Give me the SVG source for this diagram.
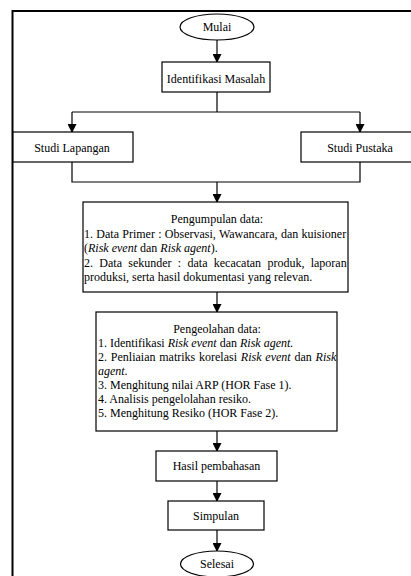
<svg xmlns="http://www.w3.org/2000/svg" width="411" height="576" viewBox="0 0 411 576" font-family="'Liberation Serif','DejaVu Serif','Times New Roman',serif">
<style>
.b{fill:#fff;stroke:#000;stroke-width:1.2}
.t{font-family:'Liberation Serif','DejaVu Serif','Times New Roman',serif;font-size:12px;fill:#000}
.c{text-anchor:middle}
.i{font-style:italic}
.l{fill:none;stroke:#000;stroke-width:1.2}
</style>
<defs>
<marker id="ar" markerWidth="9" markerHeight="9" refX="8" refY="4.5" orient="auto" markerUnits="userSpaceOnUse">
<path d="M0,0 L9,4.5 L0,9 Z" fill="#000"/>
</marker>
</defs>
<rect x="0" y="0" width="411" height="576" fill="#fff"/>
<g id="frame">
<path d="M12.5,576 V11 H411" fill="none" stroke="#000" stroke-width="2"/>
</g>
<g id="connectors">
<path class="l" d="M217,40 V62" marker-end="url(#ar)"/>
<path class="l" d="M217,92 V112 M72,112 H360"/>
<path class="l" d="M72,112 V132" marker-end="url(#ar)"/>
<path class="l" d="M360,112 V132" marker-end="url(#ar)"/>
<path class="l" d="M72,162 V182 H360 V162"/>
<path class="l" d="M217,182 V202" marker-end="url(#ar)"/>
<path class="l" d="M217,292 V312" marker-end="url(#ar)"/>
<path class="l" d="M217,431 V451" marker-end="url(#ar)"/>
<path class="l" d="M217,481 V501" marker-end="url(#ar)"/>
<path class="l" d="M217,530 V551" marker-end="url(#ar)"/>
</g>
<g id="mulai">
<ellipse class="b" cx="217" cy="27" rx="37" ry="13"/>
<text class="t c" x="217" y="31">Mulai</text>
</g>
<g id="identifikasi">
<rect class="b" x="162" y="62" width="108" height="30"/>
<text class="t c" x="216" y="83">Identifikasi Masalah</text>
</g>
<g id="lapangan">
<rect class="b" x="13" y="132" width="120" height="30"/>
<text class="t c" x="72" y="152">Studi Lapangan</text>
</g>
<g id="pustaka">
<rect class="b" x="301" y="132" width="115" height="30"/>
<text class="t c" x="360" y="152">Studi Pustaka</text>
</g>
<g id="pengumpulan">
<rect class="b" x="83" y="202" width="265" height="90"/>
<text class="t c" x="217" y="223">Pengumpulan data:</text>
<text class="t" x="84" y="237.5" word-spacing="0.3">1. Data Primer : Observasi, Wawancara, dan kuisioner</text>
<text class="t" x="84" y="252">(<tspan class="i">Risk event</tspan> dan <tspan class="i">Risk agent</tspan>).</text>
<text class="t" x="84" y="266.5" word-spacing="3.3">2. Data sekunder : data kecacatan produk, laporan</text>
<text class="t" x="84" y="281">produksi, serta hasil dokumentasi yang relevan.</text>
</g>
<g id="pengeolahan">
<rect class="b" x="96" y="312" width="241" height="119"/>
<text class="t c" x="217" y="333">Pengeolahan data:</text>
<text class="t" x="98" y="347">1. Identifikasi <tspan class="i">Risk event</tspan> dan <tspan class="i">Risk agent.</tspan></text>
<text class="t" x="98" y="361" word-spacing="0.8">2. Penliaian matriks korelasi <tspan class="i">Risk event</tspan> dan <tspan class="i">Risk</tspan></text>
<text class="t i" x="98" y="375">agent.</text>
<text class="t" x="98" y="389">3. Menghitung nilai ARP (HOR Fase 1).</text>
<text class="t" x="98" y="403">4. Analisis pengelolahan resiko.</text>
<text class="t" x="98" y="417">5. Menghitung Resiko (HOR Fase 2).</text>
</g>
<g id="hasil">
<rect class="b" x="156" y="451" width="121" height="30"/>
<text class="t c" x="216.5" y="470">Hasil pembahasan</text>
</g>
<g id="simpulan">
<rect class="b" x="168" y="501" width="96" height="29"/>
<text class="t c" x="216" y="520">Simpulan</text>
</g>
<g id="selesai">
<ellipse class="b" cx="217" cy="564" rx="36.5" ry="13"/>
<text class="t c" x="217" y="568">Selesai</text>
</g>
</svg>
